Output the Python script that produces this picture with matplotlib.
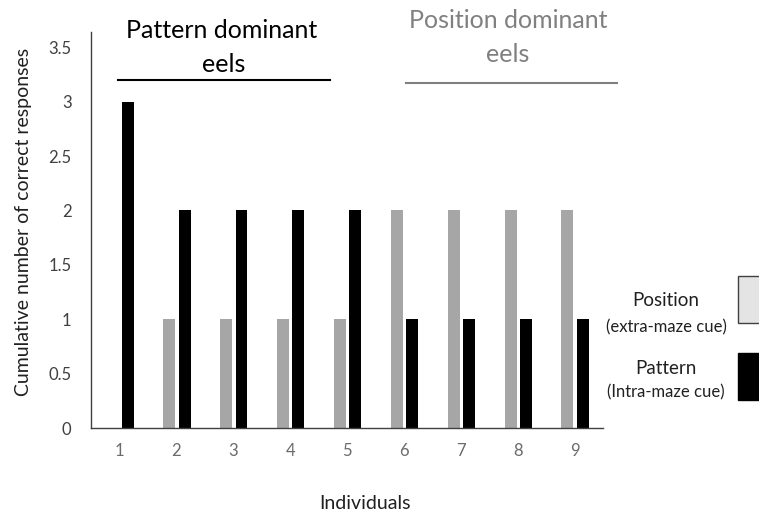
import matplotlib
matplotlib.use('Agg')
import matplotlib.pyplot as plt
from matplotlib.patches import Rectangle
from matplotlib.lines import Line2D

plt.rcParams['font.family'] = ['Lato', 'DejaVu Sans']

# data
individuals = ['1', '2', '3', '4', '5', '6', '7', '8', '9']
position = [0, 1, 1, 1, 1, 2, 2, 2, 2]
pattern = [3, 2, 2, 2, 2, 1, 1, 1, 1]

fig = plt.figure(figsize=(7.59, 5.2), dpi=100)
ax = fig.add_axes([0.1199, 0.1769, 0.6746, 0.7616])

x = list(range(1, len(individuals) + 1))
w = 0.21
ax.bar([i - 0.125 for i in x], position, width=w, color='#a6a6a6')
ax.bar([i + 0.145 for i in x], pattern, width=w, color='black')

ax.set_xlim(0.5, 9.5)
ax.set_ylim(0, 3.64)
ax.set_yticks([0, 0.5, 1, 1.5, 2, 2.5, 3, 3.5])
ax.set_yticklabels(['0', '0.5', '1', '1.5', '2', '2.5', '3', '3.5'])
ax.set_xticks(x)
ax.set_xticklabels(individuals)
ax.tick_params(axis='both', length=0, labelsize=12)
ax.tick_params(axis='x', colors='#6b6b6b', pad=11)
ax.tick_params(axis='y', colors='#404040', pad=14)
for s in ['top', 'right']:
    ax.spines[s].set_visible(False)
for s in ['left', 'bottom']:
    ax.spines[s].set_color('#404040')
    ax.spines[s].set_linewidth(1.0)

ax.set_ylabel('Cumulative number of correct responses', fontsize=14, color='#202020')
ax.yaxis.set_label_coords(-0.116, 0.52)
ax.set_xlabel('Individuals', fontsize=14, color='#202020')
ax.xaxis.set_label_coords(0.535, -0.17)

# group headings
W, H = 759, 520
def fx(px):
    return px / W
def fy(py):
    return 1 - py / H

fig.text(fx(222), fy(30), 'Pattern dominant', ha='center', va='center', fontsize=18, color='black')
fig.text(fx(224), fy(64), 'eels', ha='center', va='center', fontsize=18, color='black')
fig.add_artist(Line2D([fx(118), fx(330)], [fy(80), fy(80)], color='black', lw=1.5))

fig.text(fx(508), fy(20), 'Position dominant', ha='center', va='center', fontsize=18, color='#808080')
fig.text(fx(508), fy(54), 'eels', ha='center', va='center', fontsize=18, color='#808080')
fig.add_artist(Line2D([fx(406), fx(617)], [fy(83), fy(83)], color='#808080', lw=1.5))

# legend
fig.text(fx(666), fy(300), 'Position', ha='center', va='center', fontsize=13.5, color='#202020')
fig.text(fx(666), fy(327), '(extra-maze cue)', ha='center', va='center', fontsize=12, color='#202020')
fig.text(fx(666), fy(369), 'Pattern', ha='center', va='center', fontsize=13.5, color='#202020')
fig.text(fx(666), fy(392), '(Intra-maze cue)', ha='center', va='center', fontsize=12, color='#202020')
fig.add_artist(Rectangle((fx(738), fy(323)), fx(30), fy(276) - fy(323),
                         facecolor='#e4e4e4', edgecolor='#404040', lw=1.0))
fig.add_artist(Rectangle((fx(738), fy(400)), fx(30), fy(353) - fy(400),
                         facecolor='black', edgecolor='black', lw=1.0))

fig.savefig('out.png', dpi=100)
